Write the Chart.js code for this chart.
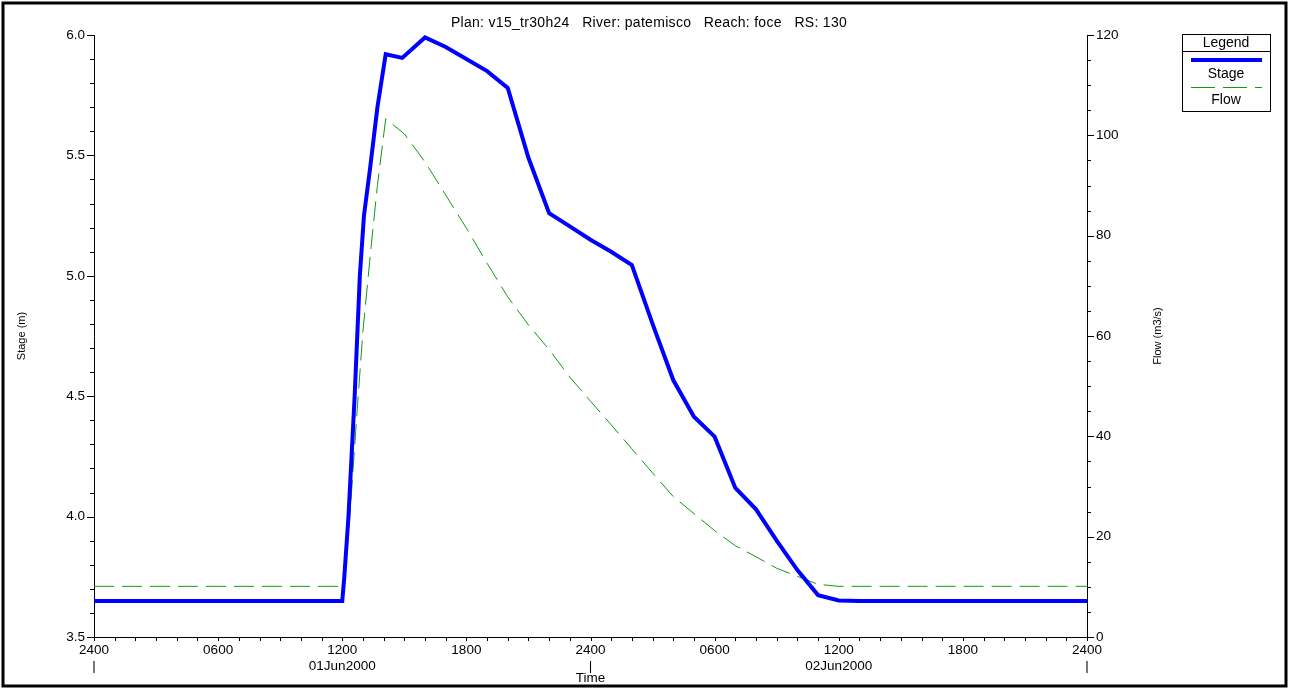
<!DOCTYPE html>
<html>
<head>
<meta charset="utf-8">
<script src="https://cdn.jsdelivr.net/npm/chart.js@4.4.0/dist/chart.umd.min.js"></script>
<style>
html, body { margin: 0; padding: 0; background: #fff; overflow: hidden; }
canvas { display: block; }
</style>
</head>
<body>
<canvas id="graphe" width="1289" height="689"></canvas>
<script>
// heures depuis 2400 du 31May2000
const heures_stage = [0, 1, 2, 3, 4, 5, 6, 7, 8, 9, 10, 11, 12,
    12.1, 12.3, 12.6, 12.85, 13.05, 13.35, 13.7, 14.1, 14.9,
    16, 17, 18, 19, 20, 21, 22, 23, 24, 25, 26, 27, 28, 29, 30,
    31, 32, 33, 34, 35, 36, 37, 38, 39, 40, 41, 42, 43, 44, 45, 46, 47, 48]
const stage = [3.65, 3.65, 3.65, 3.65, 3.65, 3.65, 3.65, 3.65, 3.65, 3.65, 3.65, 3.65, 3.65,
    3.75, 4.0, 4.5, 5.0, 5.25, 5.45, 5.7, 5.92, 5.905,
    5.99, 5.95, 5.90, 5.85, 5.78, 5.49, 5.26, 5.205, 5.15, 5.10, 5.045, 4.80, 4.567, 4.415, 4.332,
    4.119, 4.03, 3.90, 3.778, 3.674, 3.652, 3.65, 3.65, 3.65, 3.65, 3.65, 3.65, 3.65, 3.65, 3.65, 3.65, 3.65, 3.65]

const heures_flow = [0, 1, 2, 3, 4, 5, 6, 7, 8, 9, 10, 11, 12,
    12.1, 12.4, 12.7, 13.0, 13.4, 13.7, 14.1,
    15, 16, 17, 18, 19, 20, 21, 22, 23, 24, 25, 26, 27, 28, 29, 30,
    31, 32, 33, 34, 35, 36, 37, 38, 39, 40, 41, 42, 43, 44, 45, 46, 47, 48]
const flow = [10.1, 10.1, 10.1, 10.1, 10.1, 10.1, 10.1, 10.1, 10.1, 10.1, 10.1, 10.1, 10.1,
    10.3, 26, 44, 61, 78, 90, 103.3,
    100.3, 94.7, 88.1, 81.5, 74.5, 67.8, 62.2, 57.3, 51.8, 47.0, 42.3, 37.5, 32.7, 28.0, 24.6, 21.2,
    18.2, 16.0, 13.7, 12.1, 10.5, 10.1, 10.1, 10.1, 10.1, 10.1, 10.1, 10.1, 10.1, 10.1, 10.1, 10.1, 10.1, 10.1]

const etiquettes_x = ['2400', '0600', '1200', '1800', '2400', '0600', '1200', '1800', '2400']
const dates_x = ['|', '', '01Jun2000', '', '|', '', '02Jun2000', '', '|']

const titre = 'Plan: v15_tr30h24   River: patemisco   Reach: foce   RS: 130'

const police = "'Liberation Sans', Arial, sans-serif"
Chart.defaults.font.family = police
Chart.defaults.font.size = 13.5
Chart.defaults.color = '#000'

const bleu = '#0000ff'
const vert = '#109a10'

const decor = {
    id: 'decor',
    afterDraw(chart) {
        const ctx = chart.ctx
        const sx = chart.scales.x
        const sy = chart.scales.y
        const sy1 = chart.scales.y1
        ctx.save()
        ctx.strokeStyle = '#000'
        ctx.lineWidth = 1
        ctx.beginPath()
        sy.ticks.forEach(t => {
            const py = Math.round(sy.getPixelForValue(t.value)) + 0.5
            const len = t.label ? 7 : 4
            ctx.moveTo(sy.right - len, py)
            ctx.lineTo(sy.right, py)
        })
        sy1.ticks.forEach(t => {
            const py = Math.round(sy1.getPixelForValue(t.value)) + 0.5
            const len = t.label ? 7 : 4
            ctx.moveTo(sy1.left, py)
            ctx.lineTo(sy1.left + len, py)
        })
        sx.ticks.forEach(t => {
            const px = Math.round(sx.getPixelForValue(t.value)) + 0.5
            ctx.moveTo(px, sx.top)
            ctx.lineTo(px, sx.top + 4)
        })
        ctx.stroke()

        // cadre
        ctx.lineWidth = 3
        ctx.strokeRect(3, 3, 1283, 683)

        // titres
        ctx.fillStyle = '#000'
        ctx.textAlign = 'center'
        ctx.textBaseline = 'middle'
        ctx.font = '14px ' + police
        ctx.letterSpacing = '0.3px'
        ctx.fillText(titre, 649, 23)
        ctx.letterSpacing = '0px'

        ctx.save()
        ctx.translate(22, 336)
        ctx.rotate(-Math.PI / 2)
        ctx.font = '11px ' + police
        ctx.fillText('Stage (m)', 0, 0)
        ctx.restore()
        ctx.save()
        ctx.translate(1158, 336)
        ctx.rotate(-Math.PI / 2)
        ctx.font = '11px ' + police
        ctx.fillText('Flow (m3/s)', 0, 0)
        ctx.restore()

        // légende
        ctx.lineWidth = 1
        ctx.strokeRect(1182.5, 34.5, 88, 77)
        ctx.beginPath()
        ctx.moveTo(1182, 51.5)
        ctx.lineTo(1271, 51.5)
        ctx.stroke()
        ctx.font = '14px ' + police
        ctx.fillText('Legend', 1226, 43)
        ctx.fillText('Stage', 1226, 74)
        ctx.fillText('Flow', 1226, 100)
        ctx.strokeStyle = bleu
        ctx.lineWidth = 4
        ctx.beginPath()
        ctx.moveTo(1191, 60)
        ctx.lineTo(1262, 60)
        ctx.stroke()
        ctx.strokeStyle = vert
        ctx.lineWidth = 1
        ctx.setLineDash([24, 8])
        ctx.beginPath()
        ctx.moveTo(1191, 87.5)
        ctx.lineTo(1262, 87.5)
        ctx.stroke()
        ctx.restore()
    }
}

const ctx = document.getElementById('graphe').getContext('2d')
const graphe = new Chart(ctx, {
    type: 'line',
    data: {
        datasets: [{
            label: 'Stage',
            data: heures_stage.map((h, i) => ({ x: h, y: stage[i] })),
            borderColor: bleu,
            borderWidth: 4,
            pointRadius: 0,
            tension: 0,
            yAxisID: 'y',
            clip: 8
        },
        {
            label: 'Flow',
            data: heures_flow.map((h, i) => ({ x: h, y: flow[i] })),
            borderColor: vert,
            borderWidth: 1,
            borderDash: [20, 8],
            pointRadius: 0,
            tension: 0,
            yAxisID: 'y1',
            clip: 8
        }]
    },
    options: {
        responsive: false,
        animation: false,
        layout: { padding: { top: 35, left: 0, right: 0, bottom: 0 } },
        plugins: {
            legend: { display: false },
            tooltip: { enabled: false }
        },
        scales: {
            x: {
                type: 'linear',
                min: 0,
                max: 48,
                grid: { display: false, drawTicks: false },
                border: { display: true, color: '#000', width: 1 },
                title: { display: true, text: 'Time', padding: { top: 0, bottom: 3 } },
                ticks: {
                    stepSize: 1,
                    autoSkip: false,
                    maxRotation: 0,
                    padding: 5,
                    callback: (v) => {
                        if (v % 6 !== 0) return ''
                        const k = v / 6
                        return dates_x[k] ? [etiquettes_x[k], dates_x[k]] : etiquettes_x[k]
                    }
                },
                afterFit: (s) => { s.height = 52 }
            },
            y: {
                position: 'left',
                min: 3.5,
                max: 6.0,
                grid: { display: false, drawTicks: false },
                border: { display: true, color: '#000', width: 1 },
                ticks: {
                    stepSize: 0.1,
                    autoSkip: false,
                    padding: 9,
                    callback: (v) => {
                        const n = Math.round(v * 10)
                        return n % 5 === 0 ? (n / 10).toFixed(1) : ''
                    }
                },
                afterFit: (s) => { s.width = 94 }
            },
            y1: {
                position: 'right',
                min: 0,
                max: 120,
                grid: { display: false, drawTicks: false },
                border: { display: true, color: '#000', width: 1 },
                ticks: {
                    stepSize: 5,
                    autoSkip: false,
                    padding: 9,
                    callback: (v) => (v % 20 === 0 ? String(v) : '')
                },
                afterFit: (s) => { s.width = 202 }
            }
        }
    },
    plugins: [decor]
})
</script>
</body>
</html>
